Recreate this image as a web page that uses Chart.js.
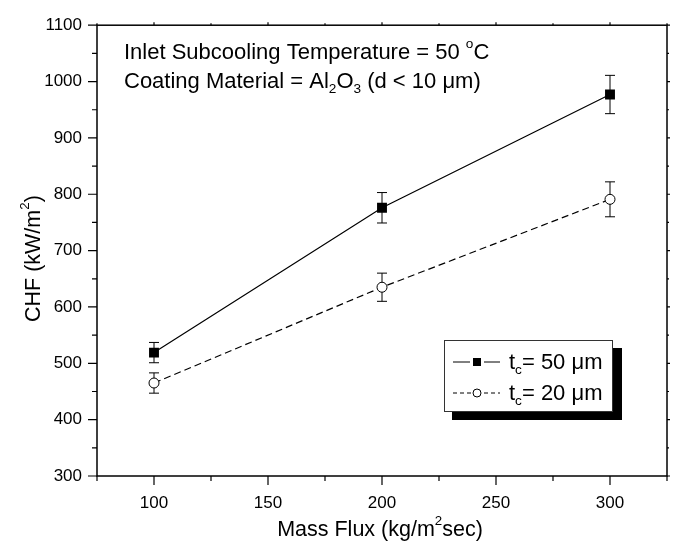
<!DOCTYPE html>
<html>
<head>
<meta charset="utf-8">
<title>CHF vs Mass Flux</title>
<script src="https://cdn.jsdelivr.net/npm/chart.js@4/dist/chart.umd.min.js"></script>
<style>
    html, body { margin: 0; padding: 0; background: #fff; }
    #chf { display: block; }
</style>
</head>
<body>
<canvas id="chf" width="674" height="542"></canvas>
<script>
// data
const massFlux = [100, 200, 300];
const chf50 = [519, 776, 977];
const err50 = [18, 27, 34];
const chf20 = [465, 635, 791];
const err20 = [18, 25, 31];

const xTicks = [100, 150, 200, 250, 300];
const xMinor = [75, 125, 175, 225, 275, 325];
const yTicks = [300, 400, 500, 600, 700, 800, 900, 1000, 1100];
const yMinor = [350, 450, 550, 650, 750, 850, 950, 1050];

const FONT = "'Liberation Sans', Arial, Helvetica, sans-serif";

/**
 * draw text pieces with sub/superscripts, returns width
 */
function richWidth(ctx, parts, size) {
    let w = 0;
    parts.forEach(p => {
        ctx.font = (p[1] === 'n' ? size : size * 0.62) + 'px ' + FONT;
        w += ctx.measureText(p[0]).width;
    });
    return w;
}

function drawRich(ctx, x, y, parts, size) {
    let cx = x;
    parts.forEach(p => {
        let dy = 0;
        if (p[1] === 'sup') dy = -size * 0.5;
        if (p[1] === 'sub') dy = size * 0.22;
        ctx.font = (p[1] === 'n' ? size : size * 0.62) + 'px ' + FONT;
        ctx.fillText(p[0], cx, y + dy);
        cx += ctx.measureText(p[0]).width;
    });
    return cx - x;
}

// error bars, drawn under the markers
const errorBars = {
    id: 'errorBars',
    beforeDatasetsDraw(chart) {
        const ctx = chart.ctx;
        const xs = chart.scales.x;
        const ys = chart.scales.y;
        const sets = [[chf50, err50], [chf20, err20]];
        ctx.save();
        ctx.strokeStyle = '#000';
        ctx.lineWidth = 1;
        sets.forEach(s => {
            massFlux.forEach((m, i) => {
                const px = xs.getPixelForValue(m);
                const top = ys.getPixelForValue(s[0][i] + s[1][i]);
                const bot = ys.getPixelForValue(s[0][i] - s[1][i]);
                ctx.beginPath();
                ctx.moveTo(px, top);
                ctx.lineTo(px, bot);
                ctx.moveTo(px - 5, top);
                ctx.lineTo(px + 5, top);
                ctx.moveTo(px - 5, bot);
                ctx.lineTo(px + 5, bot);
                ctx.stroke();
            });
        });
        ctx.restore();
    }
};

// frame, tick marks, titles, note and legend
const decor = {
    id: 'decor',
    afterDraw(chart) {
        const ctx = chart.ctx;
        const a = chart.chartArea;
        const xs = chart.scales.x;
        const ys = chart.scales.y;
        ctx.save();
        ctx.strokeStyle = '#000';
        ctx.fillStyle = '#000';

        // frame
        ctx.lineWidth = 1.5;
        ctx.strokeRect(a.left, a.top, a.right - a.left, a.bottom - a.top);

        // ticks
        ctx.lineWidth = 1.2;
        ctx.beginPath();
        xTicks.forEach(v => {
            const p = xs.getPixelForValue(v);
            ctx.moveTo(p, a.bottom); ctx.lineTo(p, a.bottom + 9);
            ctx.moveTo(p, a.top); ctx.lineTo(p, a.top - 3);
        });
        xMinor.forEach(v => {
            const p = xs.getPixelForValue(v);
            ctx.moveTo(p, a.bottom); ctx.lineTo(p, a.bottom + 5);
            ctx.moveTo(p, a.top); ctx.lineTo(p, a.top - 2);
        });
        yTicks.forEach(v => {
            const p = ys.getPixelForValue(v);
            ctx.moveTo(a.left, p); ctx.lineTo(a.left - 9, p);
            ctx.moveTo(a.right, p); ctx.lineTo(a.right + 3, p);
        });
        yMinor.forEach(v => {
            const p = ys.getPixelForValue(v);
            ctx.moveTo(a.left, p); ctx.lineTo(a.left - 5, p);
            ctx.moveTo(a.right, p); ctx.lineTo(a.right + 2, p);
        });
        ctx.stroke();

        // axis titles
        ctx.textBaseline = 'alphabetic';
        ctx.textAlign = 'left';
        const xTitle = [['Mass Flux (kg/m', 'n'], ['2', 'sup'], ['sec)', 'n']];
        const xw = richWidth(ctx, xTitle, 21.5);
        drawRich(ctx, 380 - xw / 2, 536, xTitle, 21.5);

        const yTitle = [['CHF (kW/m', 'n'], ['2', 'sup'], [')', 'n']];
        const yw = richWidth(ctx, yTitle, 21.5);
        ctx.save();
        ctx.translate(40, (a.top + a.bottom) / 2 + 8);
        ctx.rotate(-Math.PI / 2);
        drawRich(ctx, -yw / 2, 0, yTitle, 21.5);
        ctx.restore();

        // note in the top left corner
        drawRich(ctx, 124, 59, [['Inlet Subcooling Temperature = 50 ', 'n'], ['o', 'sup'], ['C', 'n']], 22);
        drawRich(ctx, 124, 88, [['Coating Material = Al', 'n'], ['2', 'sub'], ['O', 'n'], ['3', 'sub'], [' (d < 10 \u03bcm)', 'n']], 22);

        // legend box with shadow
        ctx.fillStyle = '#000';
        ctx.fillRect(452, 348, 170, 72);
        ctx.fillStyle = '#fff';
        ctx.fillRect(444, 340, 169, 72);
        ctx.lineWidth = 1;
        ctx.strokeStyle = '#333';
        ctx.strokeRect(444.5, 340.5, 168, 71);

        ctx.strokeStyle = '#000';
        ctx.fillStyle = '#000';
        // row 1: solid line, filled square
        ctx.beginPath();
        ctx.moveTo(453, 362); ctx.lineTo(470, 362);
        ctx.moveTo(484, 362); ctx.lineTo(500, 362);
        ctx.stroke();
        ctx.fillRect(473, 358, 8, 8);
        // row 2: dashed line, open circle
        ctx.setLineDash([4, 3]);
        ctx.beginPath();
        ctx.moveTo(453, 393); ctx.lineTo(471, 393);
        ctx.moveTo(484, 393); ctx.lineTo(500, 393);
        ctx.stroke();
        ctx.setLineDash([]);
        ctx.beginPath();
        ctx.arc(477, 393, 4, 0, Math.PI * 2);
        ctx.fillStyle = '#fff';
        ctx.fill();
        ctx.stroke();

        ctx.fillStyle = '#000';
        drawRich(ctx, 509, 369, [['t', 'n'], ['c', 'sub'], ['= 50 \u03bcm', 'n']], 22);
        drawRich(ctx, 509, 400, [['t', 'n'], ['c', 'sub'], ['= 20 \u03bcm', 'n']], 22);

        ctx.restore();
    }
};

function buildPoints(ys) {
    return massFlux.map((m, i) => ({ x: m, y: ys[i] }));
}

const ctx = document.getElementById('chf');
new Chart(ctx, {
    type: 'line',
    data: {
        datasets: [{
            label: 'tc = 50 \u03bcm',
            data: buildPoints(chf50),
            borderColor: '#000',
            borderWidth: 1.2,
            pointStyle: 'rect',
            pointRadius: 7,
            pointBackgroundColor: '#000',
            pointBorderColor: '#000',
            pointBorderWidth: 0,
            tension: 0
        }, {
            label: 'tc = 20 \u03bcm',
            data: buildPoints(chf20),
            borderColor: '#000',
            borderWidth: 1.2,
            borderDash: [7, 4],
            pointStyle: 'circle',
            pointRadius: 5,
            pointBackgroundColor: '#fff',
            pointBorderColor: '#000',
            pointBorderWidth: 1,
            tension: 0
        }]
    },
    options: {
        responsive: false,
        animation: false,
        devicePixelRatio: 1,
        layout: { padding: { top: 17, right: 6, left: 0, bottom: 0 } },
        plugins: {
            legend: { display: false },
            tooltip: { enabled: false }
        },
        scales: {
            x: {
                type: 'linear',
                min: 75,
                max: 325,
                grid: { display: false, drawTicks: false },
                border: { display: false },
                afterBuildTicks: s => { s.ticks = xTicks.map(v => ({ value: v })); },
                afterFit: s => { s.height = 66; },
                ticks: {
                    color: '#000',
                    padding: 17,
                    maxRotation: 0,
                    callback: v => String(v),
                    font: { family: FONT, size: 17 }
                }
            },
            y: {
                min: 300,
                max: 1100,
                grid: { display: false, drawTicks: false },
                border: { display: false },
                afterBuildTicks: s => { s.ticks = yTicks.map(v => ({ value: v })); },
                afterFit: s => { s.width = 97; },
                ticks: {
                    color: '#000',
                    padding: 15,
                    callback: v => String(v),
                    font: { family: FONT, size: 17 }
                }
            }
        }
    },
    plugins: [errorBars, decor]
});
</script>
</body>
</html>
